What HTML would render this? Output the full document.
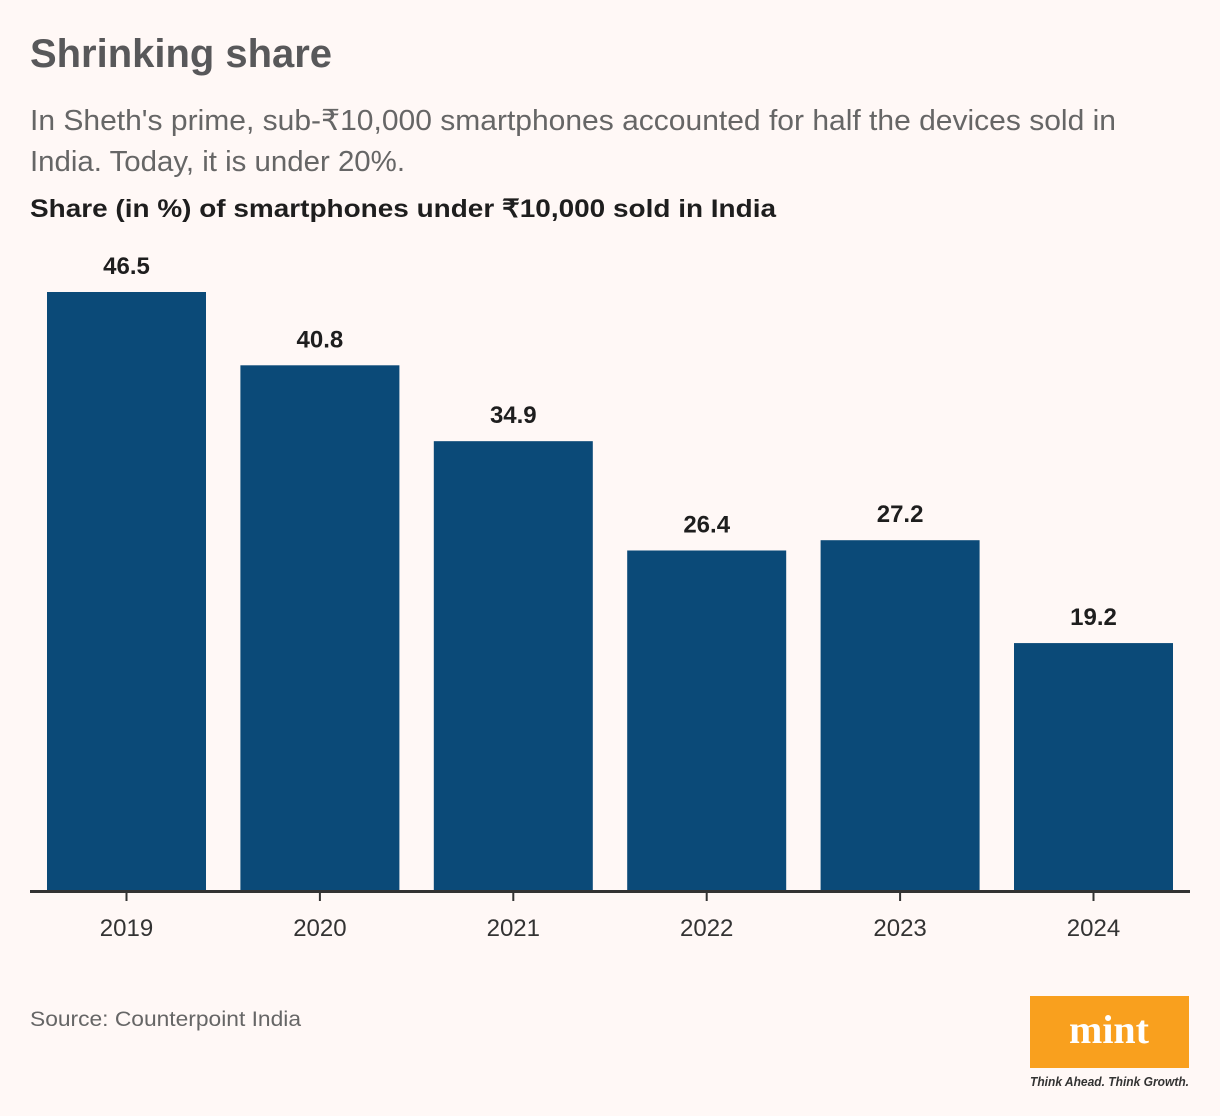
<!DOCTYPE html>
<html><head><meta charset="utf-8"><style>
html,body{margin:0;padding:0;background:#fff8f6;}
svg{display:block;font-family:"Liberation Sans",sans-serif;}
</style></head><body>
<svg width="1220" height="1116" viewBox="0 0 1220 1116">
<rect width="1220" height="1116" fill="#fff8f6"/>
<text x="30" y="67" font-size="40" font-weight="bold" fill="#58585a" textLength="302" lengthAdjust="spacingAndGlyphs">Shrinking share</text>
<text x="30" y="130" font-size="29" fill="#666" textLength="1086" lengthAdjust="spacingAndGlyphs">In Sheth's prime, sub-₹10,000 smartphones accounted for half the devices sold in</text>
<text x="30" y="171" font-size="29" fill="#666" textLength="375" lengthAdjust="spacingAndGlyphs">India. Today, it is under 20%.</text>
<text x="30" y="217" font-size="25" font-weight="bold" fill="#1e1e1e" textLength="746" lengthAdjust="spacingAndGlyphs">Share (in %) of smartphones under ₹10,000 sold in India</text>
<g id="bars"></g>
<line x1="30" y1="891.5" x2="1190" y2="891.5" stroke="#333" stroke-width="3"/>
<text x="30" y="1026" font-size="21" fill="#666" textLength="271" lengthAdjust="spacingAndGlyphs">Source: Counterpoint India</text>
<rect x="1030" y="996" width="159" height="72" fill="#f9a01e"/>
<text x="1109" y="1043" font-size="40" font-weight="bold" fill="#fff" text-anchor="middle" font-family="Liberation Serif,serif">mint</text>
<text x="1030" y="1086" font-size="13" font-style="italic" font-weight="bold" fill="#333" textLength="159" lengthAdjust="spacingAndGlyphs">Think Ahead. Think Growth.</text>
</svg>
<script>
const categories = ["2019","2020","2021","2022","2023","2024"];
const values = [46.5,40.8,34.9,26.4,27.2,19.2];
const labels = ["46.5","40.8","34.9","26.4","27.2","19.2"];
const NS="http://www.w3.org/2000/svg";
const baseY=890, scale=598/46.5, x0=47, step=193.4, bw=159;
const xPos=i=>x0+i*step;
const yPos=v=>baseY-v*scale;
const g=document.getElementById('bars');
categories.forEach((c,i)=>{
  const x=xPos(i), y=yPos(values[i]);
  const r=document.createElementNS(NS,'rect');
  r.setAttribute('x',x);r.setAttribute('y',y);r.setAttribute('width',bw);r.setAttribute('height',baseY-y);r.setAttribute('fill','#0b4a78');
  
  
  g.appendChild(r);
  const t=document.createElementNS(NS,'text');
  t.setAttribute('x',x+bw/2);t.setAttribute('y',y-18);t.setAttribute('text-anchor','middle');
  t.setAttribute('font-size','24');t.setAttribute('font-weight','bold');t.setAttribute('fill','#1e1e1e');
  t.textContent=labels[i];
  
  
  g.appendChild(t);
  const tk=document.createElementNS(NS,'line');
  tk.setAttribute('x1',x+bw/2);tk.setAttribute('x2',x+bw/2);tk.setAttribute('y1',893);tk.setAttribute('y2',901);
  tk.setAttribute('stroke','#333');tk.setAttribute('stroke-width','2');
  
  
  g.appendChild(tk);
  const xl=document.createElementNS(NS,'text');
  xl.setAttribute('x',x+bw/2);xl.setAttribute('y',936);xl.setAttribute('text-anchor','middle');
  xl.setAttribute('font-size','24');xl.setAttribute('fill','#333');
  xl.textContent=c;
  
  
  g.appendChild(xl);
});
</script>
</body></html>
